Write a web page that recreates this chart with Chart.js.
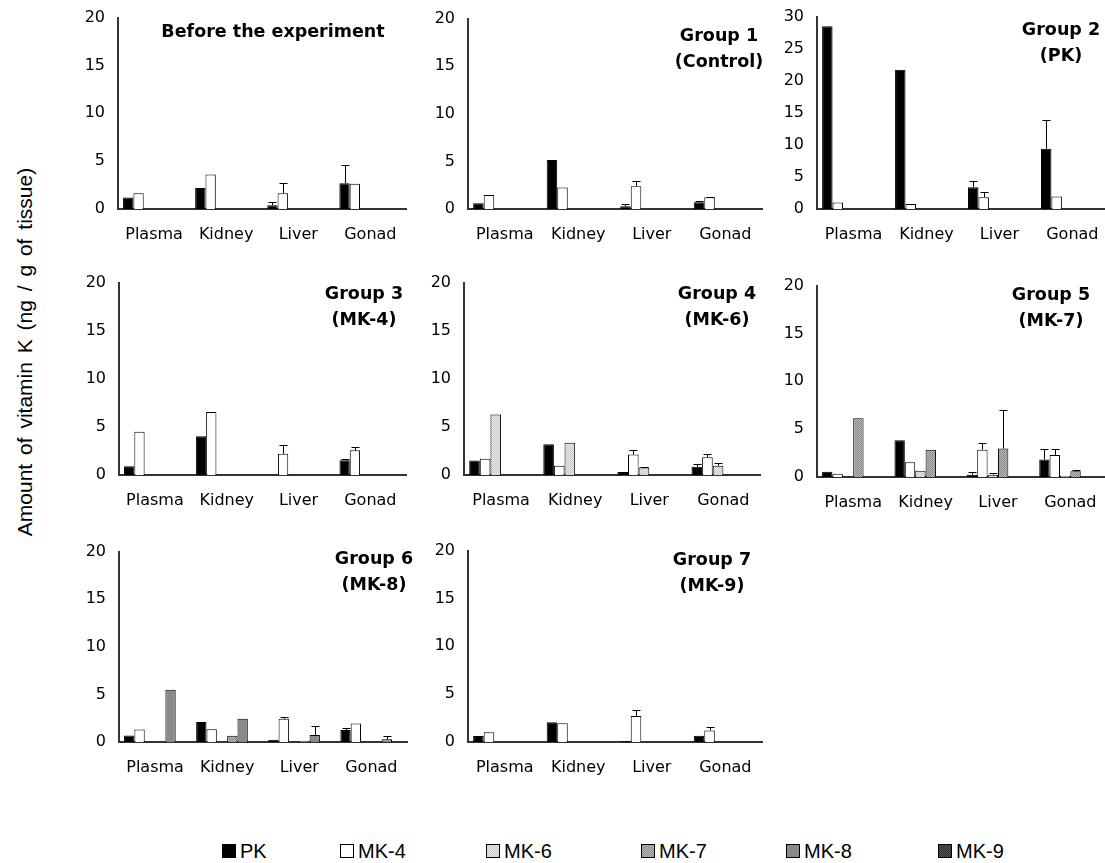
<!DOCTYPE html>
<html>
<head>
<meta charset="utf-8">
<title>Vitamin K homologues in rat tissues</title>
<script src="https://cdn.jsdelivr.net/npm/chart.js@4.4.1/dist/chart.umd.min.js"></script>
<style>
  html, body { margin: 0; padding: 0; background: #fff; }
  #page { position: relative; width: 1105px; height: 863px; overflow: hidden; }
  #page canvas.panel { position: absolute; }
  #yTitle {
    position: absolute; left: -185px; top: 340px; width: 420px; height: 24px;
    line-height: 24px; text-align: center; white-space: nowrap; color: #000;
    font: 21px 'Liberation Sans', Arial, sans-serif; word-spacing: 3px;
    transform: rotate(-90deg);
  }
  .legend-item {
    position: absolute; top: 840px; height: 22px; display: flex; align-items: center;
    gap: 4px; font: 20px 'Liberation Sans', Arial, sans-serif; color: #000; white-space: nowrap;
  }
</style>
</head>
<body>
<div id="page">
  <div id="yTitle">Amount of vitamin K (ng / g of tissue)</div>
</div>
<script>
const ORGANS = ['Plasma', 'Kidney', 'Liver', 'Gonad'];
const SERIES = ['PK', 'MK-4', 'MK-6', 'MK-7', 'MK-8', 'MK-9'];

// rows follow SERIES, columns follow ORGANS; null = nothing detected
const BEFORE_VALUES = [
  [1.2, 2.2, 0.4, 2.7],
  [1.65, 3.6, 1.65, 2.65],
  [null, null, null, null],
  [null, null, null, null],
  [null, null, null, null],
  [null, null, null, null]
];
const BEFORE_ERRORS = [
  [0, 0, 0.35, 1.85],
  [0, 0, 1.1, 0],
  [0, 0, 0, 0], [0, 0, 0, 0], [0, 0, 0, 0], [0, 0, 0, 0]
];

const GROUP1_VALUES = [
  [0.6, 5.15, 0.28, 0.72],
  [1.48, 2.25, 2.4, 1.24],
  [null, null, null, null],
  [null, null, null, null],
  [null, null, null, null],
  [null, null, null, null]
];
const GROUP1_ERRORS = [
  [0, 0, 0.27, 0.14],
  [0, 0, 0.55, 0.05],
  [0, 0, 0, 0], [0, 0, 0, 0], [0, 0, 0, 0], [0, 0, 0, 0]
];

const GROUP2_VALUES = [
  [28.5, 21.7, 3.4, 9.4],
  [1.0, 0.77, 1.85, 1.95],
  [null, null, null, null],
  [null, null, null, null],
  [null, null, null, null],
  [null, null, null, null]
];
const GROUP2_ERRORS = [
  [0, 0, 0.95, 4.4],
  [0, 0, 0.75, 0],
  [0, 0, 0, 0], [0, 0, 0, 0], [0, 0, 0, 0], [0, 0, 0, 0]
];

const GROUP3_VALUES = [
  [0.92, 4.03, null, 1.54],
  [4.5, 6.55, 2.2, 2.56],
  [null, null, null, null],
  [null, null, null, null],
  [null, null, null, null],
  [null, null, null, null]
];
const GROUP3_ERRORS = [
  [0, 0, 0, 0.17],
  [0, 0, 0.96, 0.34],
  [0, 0, 0, 0], [0, 0, 0, 0], [0, 0, 0, 0], [0, 0, 0, 0]
];

const GROUP4_VALUES = [
  [1.5, 3.2, 0.3, 0.85],
  [1.68, 0.96, 2.12, 1.85],
  [6.3, 3.35, 0.79, 0.96],
  [null, null, null, null],
  [null, null, null, null],
  [null, null, null, null]
];
const GROUP4_ERRORS = [
  [0, 0, 0, 0.28],
  [0, 0, 0.44, 0.3],
  [0, 0, 0.08, 0.3],
  [0, 0, 0, 0], [0, 0, 0, 0], [0, 0, 0, 0]
];

const GROUP5_VALUES = [
  [0.55, 3.83, 0.24, 1.83],
  [0.34, 1.55, 2.86, 2.31],
  [null, 0.66, 0.24, 0.14],
  [6.14, 2.86, 2.97, 0.59],
  [null, null, null, null],
  [null, null, null, null]
];
const GROUP5_ERRORS = [
  [0, 0, 0.28, 1.1],
  [0, 0, 0.72, 0.59],
  [0, 0, 0.2, 0],
  [0, 0, 4.03, 0.17],
  [0, 0, 0, 0], [0, 0, 0, 0]
];

const GROUP6_VALUES = [
  [0.69, 2.11, 0.24, 1.25],
  [1.32, 1.35, 2.43, 1.94],
  [null, null, null, null],
  [null, 0.66, 0.14, null],
  [5.48, 2.43, 0.73, 0.28],
  [null, null, null, null]
];
const GROUP6_ERRORS = [
  [0, 0, 0, 0.21],
  [0, 0, 0.24, 0],
  [0, 0, 0, 0],
  [0, 0, 0, 0],
  [0, 0, 0.97, 0.34],
  [0, 0, 0, 0]
];

const GROUP7_VALUES = [
  [0.62, 2.07, 0.1, 0.66],
  [1.03, 1.97, 2.72, 1.21],
  [null, null, null, null],
  [null, null, null, null],
  [null, null, null, null],
  [null, null, null, null]
];
const GROUP7_ERRORS = [
  [0, 0, 0, 0],
  [0, 0, 0.66, 0.34],
  [0, 0, 0, 0], [0, 0, 0, 0], [0, 0, 0, 0], [0, 0, 0, 0]
];

const PANELS = [
  { title: ['Before the experiment'], values: BEFORE_VALUES, errors: BEFORE_ERRORS, max: 20 },
  { title: ['Group 1', '(Control)'], values: GROUP1_VALUES, errors: GROUP1_ERRORS, max: 20 },
  { title: ['Group 2', '(PK)'], values: GROUP2_VALUES, errors: GROUP2_ERRORS, max: 30 },
  { title: ['Group 3', '(MK-4)'], values: GROUP3_VALUES, errors: GROUP3_ERRORS, max: 20 },
  { title: ['Group 4', '(MK-6)'], values: GROUP4_VALUES, errors: GROUP4_ERRORS, max: 20 },
  { title: ['Group 5', '(MK-7)'], values: GROUP5_VALUES, errors: GROUP5_ERRORS, max: 20 },
  { title: ['Group 6', '(MK-8)'], values: GROUP6_VALUES, errors: GROUP6_ERRORS, max: 20 },
  { title: ['Group 7', '(MK-9)'], values: GROUP7_VALUES, errors: GROUP7_ERRORS, max: 20 }
];

// page placement of each plot area: y axis x, top tick, zero line, plot width, title anchor
const BOXES = [
  { x: 118, top: 15, zero: 209, width: 291, titleX: 155, titleY: 15 },
  { x: 468, top: 16, zero: 209, width: 296, titleX: 251, titleY: 18 },
  { x: 817, top: 13.5, zero: 209, width: 294, titleX: 244, titleY: 13.5 },
  { x: 119, top: 280, zero: 475, width: 290, titleX: 245, titleY: 12 },
  { x: 464, top: 280, zero: 475, width: 298, titleX: 253, titleY: 12 },
  { x: 817, top: 283, zero: 477, width: 292, titleX: 234, titleY: 10 },
  { x: 119, top: 549, zero: 742, width: 291, titleX: 255, titleY: 8 },
  { x: 468, top: 548, zero: 742, width: 296, titleX: 244, titleY: 10 }
];

const LEGEND_X = [222, 340, 486, 641, 786, 938];

const AXIS_W = 50;
const PAD_TOP = 20;
const XAXIS_H = 42;
const TICK_FONT = { family: "'DejaVu Sans', sans-serif", size: 16 };

function makeFill(base, dot) {
  const tile = document.createElement('canvas');
  tile.width = 2;
  tile.height = 2;
  const ctx = tile.getContext('2d');
  ctx.fillStyle = base;
  ctx.fillRect(0, 0, 2, 2);
  ctx.fillStyle = dot;
  ctx.fillRect(0, 0, 1, 1);
  ctx.fillRect(1, 1, 1, 1);
  return ctx.createPattern(tile, 'repeat');
}

const FILLS = [
  '#000000',
  '#ffffff',
  makeFill('#eeeeee', '#c4c4c4'),
  makeFill('#b8b8b8', '#8a8a8a'),
  '#8a8a8a',
  makeFill('#5a5a5a', '#262626')
];

// upward error bars with a small cap
const errorBars = {
  id: 'errorBars',
  afterDatasetsDraw(chart) {
    const { ctx } = chart;
    const y = chart.scales.y;
    ctx.save();
    ctx.strokeStyle = '#000';
    ctx.lineWidth = 1;
    chart.data.datasets.forEach((ds, d) => {
      const meta = chart.getDatasetMeta(d);
      ds.errors.forEach((err, i) => {
        const value = ds.data[i];
        if (!err || value == null) return;
        const bar = meta.data[i];
        const x = Math.round(bar.x) + 0.5;
        const yEnd = Math.round(y.getPixelForValue(value + err)) + 0.5;
        ctx.beginPath();
        ctx.moveTo(x, bar.y);
        ctx.lineTo(x, yEnd);
        ctx.moveTo(x - 4, yEnd);
        ctx.lineTo(x + 4, yEnd);
        ctx.stroke();
      });
    });
    ctx.restore();
  }
};

function makeTitle(lines, box) {
  return {
    id: 'panelTitle',
    afterDraw(chart) {
      const { ctx, chartArea } = chart;
      ctx.save();
      ctx.fillStyle = '#000';
      ctx.font = "bold 17.5px 'DejaVu Sans', sans-serif";
      ctx.textAlign = 'center';
      ctx.textBaseline = 'middle';
      lines.forEach((line, i) => {
        ctx.fillText(line, chartArea.left + box.titleX, chartArea.top + box.titleY + i * 26);
      });
      ctx.restore();
    }
  };
}

function buildPanel(panel, box) {
  const canvas = document.createElement('canvas');
  canvas.className = 'panel';
  const plotH = box.zero - box.top;
  canvas.width = AXIS_W + box.width + 4;
  canvas.height = PAD_TOP + plotH + XAXIS_H;
  canvas.style.left = (box.x - AXIS_W) + 'px';
  canvas.style.top = (box.top - PAD_TOP) + 'px';
  document.getElementById('page').appendChild(canvas);

  const datasets = SERIES.map((name, i) => ({
    label: name,
    data: panel.values[i],
    errors: panel.errors[i],
    backgroundColor: FILLS[i],
    borderColor: '#000',
    borderWidth: 1,
    barPercentage: 1,
    categoryPercentage: 0.86
  }));

  return new Chart(canvas, {
    type: 'bar',
    data: { labels: ORGANS, datasets },
    plugins: [errorBars, makeTitle(panel.title, box)],
    options: {
      responsive: false,
      animation: false,
      layout: { padding: { top: PAD_TOP, right: 4, left: 0, bottom: 0 } },
      plugins: {
        legend: { display: false },
        tooltip: { enabled: false }
      },
      scales: {
        x: {
          grid: { display: false, drawTicks: false },
          border: { display: true, color: '#333', width: 2 },
          ticks: { color: '#000', font: TICK_FONT, padding: 16, maxRotation: 0 },
          afterFit: (scale) => { scale.height = XAXIS_H; }
        },
        y: {
          min: 0,
          max: panel.max,
          grid: { display: false, drawTicks: false },
          border: { display: true, color: '#333', width: 2 },
          ticks: { stepSize: 5, color: '#000', font: TICK_FONT, padding: 13 },
          afterFit: (scale) => { scale.width = AXIS_W; }
        }
      }
    }
  });
}

function buildLegend() {
  const page = document.getElementById('page');
  SERIES.forEach((name, i) => {
    const item = document.createElement('div');
    item.className = 'legend-item';
    item.style.left = LEGEND_X[i] + 'px';

    const swatch = document.createElement('canvas');
    swatch.width = 14;
    swatch.height = 14;
    const c = swatch.getContext('2d');
    c.fillStyle = FILLS[i];
    c.fillRect(0, 0, 14, 14);
    c.strokeStyle = '#000';
    c.lineWidth = 1;
    c.strokeRect(0.5, 0.5, 13, 13);

    item.appendChild(swatch);
    item.appendChild(document.createTextNode(name));
    page.appendChild(item);
  });
}

PANELS.forEach((panel, i) => buildPanel(panel, BOXES[i]));
buildLegend();
</script>
</body>
</html>
